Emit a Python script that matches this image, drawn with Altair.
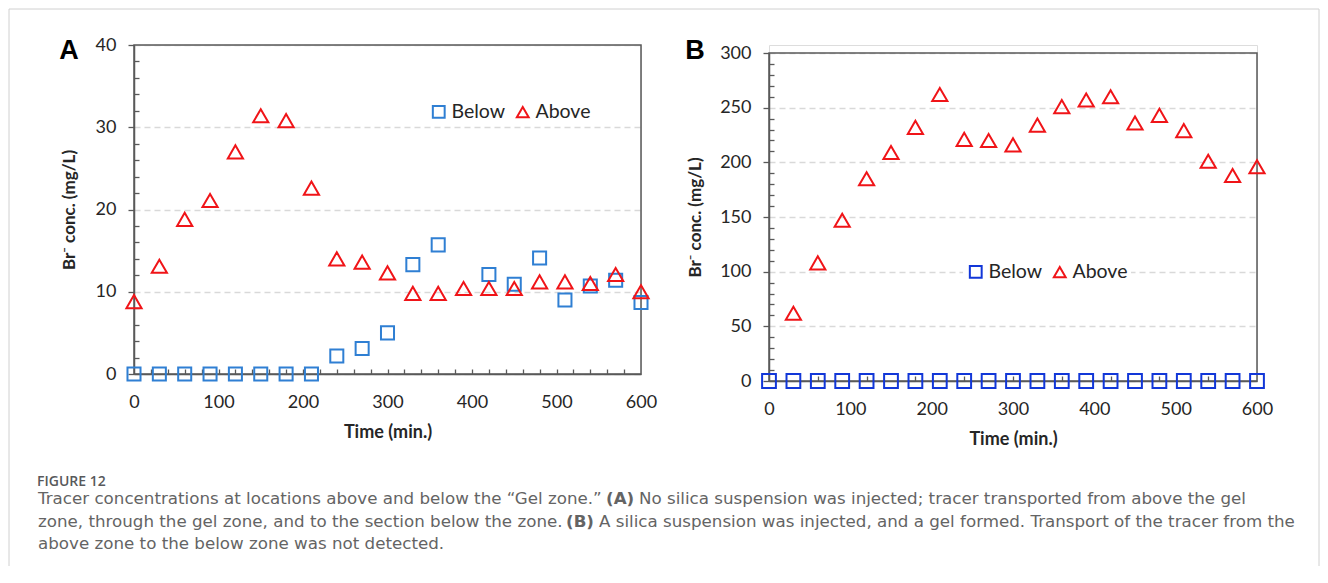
import altair as alt
import pandas as pd

# ---------------- data ----------------
series_names = ["Below", "Above"]

# Panel A
time_a_below = [0, 30, 60, 90, 120, 150, 180, 210, 240, 270, 300, 330, 360, 420, 450, 480, 510, 540, 570, 600]
conc_a_below = [0, 0, 0, 0, 0, 0, 0, 0, 2.2, 3.1, 5.0, 13.3, 15.7, 12.1, 10.9, 14.1, 9.0, 10.7, 11.4, 8.7]
time_a_above = [0, 30, 60, 90, 120, 150, 180, 210, 240, 270, 300, 330, 360, 390, 420, 450, 480, 510, 540, 570, 600]
conc_a_above = [8.8, 13.1, 18.8, 21.1, 27.0, 31.4, 30.8, 22.6, 14.0, 13.6, 12.3, 9.8, 9.8, 10.4, 10.4, 10.4, 11.2, 11.2, 11.0, 12.1, 10.0]

# Panel B
time_b_below = [0, 30, 60, 90, 120, 150, 180, 210, 240, 270, 300, 330, 360, 390, 420, 450, 480, 510, 540, 570, 600]
conc_b_below = [0, 0, 0, 0, 0, 0, 0, 0, 0, 0, 0, 0, 0, 0, 0, 0, 0, 0, 0, 0, 0]
time_b_above = [30, 60, 90, 120, 150, 180, 210, 240, 270, 300, 330, 360, 390, 420, 450, 480, 510, 540, 570, 600]
conc_b_above = [62, 108, 147, 185, 209, 232, 262, 221, 220, 216, 234, 251, 257, 260, 236, 243, 229, 201, 188, 196]

# axis tick values
x_domain = [0, 600]
x_labels = [0, 100, 200, 300, 400, 500, 600]
a_y_domain = [0, 40]
a_y_labels = [0, 10, 20, 30, 40]
b_y_domain = [0, 300]
b_y_labels = [0, 50, 100, 150, 200, 250, 300]
a_x_minor = [v for v in range(20, 600, 20)]
b_x_minor = [v for v in range(60, 600, 60)]
a_y_minor = [v for v in range(2, 40, 2) if v % 10 != 0]
b_y_minor = [v for v in range(10, 300, 10) if v % 50 != 0]

y_title = "Br\u207b conc. (mg/L)"
x_title = "Time (min.)"

caption_head = "FIGURE 12"
caption_lines = [
    [("Tracer concentrations at locations above and below the \u201cGel zone.\u201d", "normal", -96),
     ("(A)", "bold", 472),
     ("No silica suspension was injected; tracer transported from above the gel", "normal", 505)],
    [("zone, through the gel zone, and to the section below the zone.", "normal", -96),
     ("(B)", "bold", 432),
     ("A silica suspension was injected, and a gel formed. Transport of the tracer from the", "normal", 465)],
    [("above zone to the below zone was not detected.", "normal", -96)],
]

FONT = "Lato"
CAP_FONT = "DejaVu Sans"
AX = "#595959"
TXT = "#262626"
RED = "#f01418"


def panel(tb, vb, ta, va, y_domain, y_labels, y_minor, x_minor, y_range, blue,
          leg_x, leg_y, letter, letter_x, sq_size, tri_size, ytitle_pad):
    xs = alt.Scale(domain=x_domain, nice=False, zero=False)
    if y_range is not None:
        ys = alt.Scale(domain=y_domain, nice=False, zero=False, range=y_range)
    else:
        ys = alt.Scale(domain=y_domain, nice=False, zero=False)

    df_b = pd.DataFrame({"t": tb, "v": vb, "s": series_names[0]})
    df_a = pd.DataFrame({"t": ta, "v": va, "s": series_names[1]})
    frame_df = pd.DataFrame({"x0": [x_domain[0]], "x1": [x_domain[1]],
                             "y0": [y_domain[0]], "y1": [y_domain[1]]})

    color_scale = alt.Scale(domain=series_names, range=[blue, RED])
    shape_scale = alt.Scale(domain=series_names, range=["square", "triangle-up"])
    legend = alt.Legend(orient="none", legendX=leg_x, legendY=leg_y, direction="horizontal",
                        title=None, labelFont=FONT, labelFontSize=19.5, labelColor=TXT,
                        symbolStrokeWidth=2, symbolSize=140, fillColor="white", padding=3,
                        columnPadding=6, labelOffset=3, symbolOffset=0)

    minor_x_axis = alt.Axis(values=x_minor, orient="bottom", offset=-5, tickSize=5, labels=False,
                            domain=False, grid=False, title=None, tickColor=AX, tickWidth=1.3)
    minor_y_axis = alt.Axis(values=y_minor, orient="left", offset=-5, tickSize=5, labels=False,
                            domain=False, grid=False, title=None, tickColor=AX, tickWidth=1.3)

    frame = alt.Chart(frame_df).mark_rect(fill="transparent", stroke=AX, strokeWidth=1.5).encode(
        x=alt.X("x0:Q", scale=xs, axis=minor_x_axis),
        x2="x1:Q",
        y=alt.Y("y0:Q", scale=ys, axis=minor_y_axis),
        y2="y1:Q",
    )

    main_x_axis = alt.Axis(values=x_labels, orient="bottom", title=x_title, grid=False, ticks=False,
                           domainColor=AX, domainWidth=1.5, labelFont=FONT, labelFontSize=18,
                           labelColor=TXT, labelPadding=19, labelFlush=False, labelOverlap=False,
                           titleFont=FONT, titleFontSize=18, titleFontWeight="bold", titleColor=TXT,
                           titlePadding=12)
    main_y_axis = alt.Axis(values=y_labels, orient="left", title=y_title, grid=True, gridColor="#d9d9d9",
                           gridDash=[6, 4], gridWidth=1.5, tickSize=6, tickColor=AX, tickWidth=1.3,
                           domainColor=AX, domainWidth=1.5, labelFont=FONT, labelFontSize=18,
                           labelColor=TXT, labelPadding=12, labelFlush=False, labelOverlap=False,
                           titleFont=FONT, titleFontSize=17, titleFontWeight="bold", titleColor=TXT,
                           titlePadding=ytitle_pad)

    squares = alt.Chart(df_b).mark_point(filled=False, strokeWidth=2, size=sq_size, opacity=1, clip=False).encode(
        x=alt.X("t:Q", scale=xs, axis=main_x_axis),
        y=alt.Y("v:Q", scale=ys, axis=main_y_axis),
        color=alt.Color("s:N", scale=color_scale, legend=legend, sort=series_names),
        shape=alt.Shape("s:N", scale=shape_scale, legend=legend, sort=series_names),
    )
    triangles = alt.Chart(df_a).mark_point(filled=False, strokeWidth=2, size=tri_size, opacity=1, clip=False).encode(
        x=alt.X("t:Q", scale=xs, axis=None),
        y=alt.Y("v:Q", scale=ys, axis=None),
        color=alt.Color("s:N", scale=color_scale, legend=legend, sort=series_names),
        shape=alt.Shape("s:N", scale=shape_scale, legend=legend, sort=series_names),
    )

    letter_mark = alt.Chart().mark_text(font="Liberation Sans", fontWeight="bold", fontSize=27,
                                        color="#000000", align="center", baseline="middle").encode(
        x=alt.value(letter_x), y=alt.value(6), text=alt.value(letter))

    return [frame, squares, triangles, letter_mark]


layers_a = panel(time_a_below, conc_a_below, time_a_above, conc_a_above, a_y_domain, a_y_labels,
                 a_y_minor, a_x_minor, None, "#2f7fd3", 292, 54, "A", -65, 170, 230, 17)
layers_b = panel(time_b_below, conc_b_below, time_b_above, conc_b_above, b_y_domain, b_y_labels,
                 b_y_minor, b_x_minor, [336, 8], "#1237d8", 194, 214, "B", -74, 190, 230, 15)

# caption and outer border belong to panel A's layer (flush layout ignores them)
BORDER = "#d0d0d0"
border = [
    alt.Chart().mark_rule(color=BORDER, strokeWidth=1).encode(
        x=alt.value(-125), y=alt.value(-36), y2=alt.value(521)),
    alt.Chart().mark_rule(color=BORDER, strokeWidth=1).encode(
        x=alt.value(-125), x2=alt.value(1185), y=alt.value(-36)),
    alt.Chart().mark_rule(color=BORDER, strokeWidth=1).encode(
        x=alt.value(1185), y=alt.value(-36), y2=alt.value(521)),
]
cap = [alt.Chart().mark_text(font="Open Sans", fontSize=14, fontWeight=600, color="#58595b",
                             align="left", baseline="alphabetic").encode(
    x=alt.value(-97), y=alt.value(441), text=alt.value(caption_head))]
line_y = [459, 481.5, 504]
for i, segs in enumerate(caption_lines):
    for text, weight, xpos in segs:
        cap.append(alt.Chart().mark_text(font=CAP_FONT, fontSize=16.7, fontWeight=weight, color="#646464",
                                         align="left", baseline="alphabetic").encode(
            x=alt.value(xpos), y=alt.value(line_y[i]), text=alt.value(text)))

chart_a = alt.layer(*(layers_a + border + cap)).resolve_axis(x="independent", y="independent").properties(
    width=507, height=329)
chart_b = alt.layer(*layers_b).resolve_axis(x="independent", y="independent").properties(
    width=488, height=336)

chart = alt.hconcat(chart_a, chart_b, spacing=128, bounds="flush").resolve_scale(
    color="independent", shape="independent").properties(padding=0).configure_view(
    stroke="transparent").configure(font=FONT)

chart.save("out.html", embed_options={"renderer": "svg", "actions": False})
